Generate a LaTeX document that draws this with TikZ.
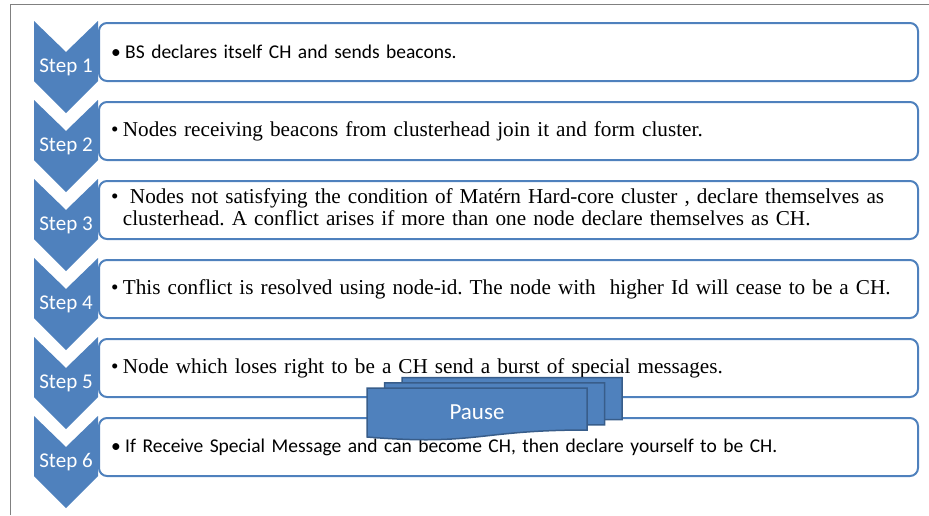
\documentclass[tikz,border=0pt]{standalone}
\usepackage{fontspec}
\setmainfont{Liberation Serif}
\newfontfamily\calibri{Carlito}
\frenchspacing

\definecolor{officeblue}{HTML}{4F81BD}
\definecolor{pauseedge}{HTML}{385D8A}

\tikzset{
    chevron/.style={fill=officeblue},
    steplabel/.style={text=white, font=\calibri\fontsize{21}{21}\selectfont},
    stepbox/.style={draw=officeblue, line width=2pt, rounded corners=8pt,
        minimum width=819pt, minimum height=58pt, text width=795pt,
        inner xsep=12pt, align=left},
    serifnote/.style={font=\fontsize{21.2}{22}\selectfont},
    sansnote/.style={font=\calibri\fontsize{19.5}{22}\selectfont},
    docshape/.style={fill=officeblue, draw=pauseedge, line width=1.5pt},
    pauselabel/.style={text=white, font=\calibri\fontsize{23}{23}\selectfont},
}

\begin{document}
\begin{tikzpicture}[x=1pt, y=-1pt]
    \useasboundingbox (0,0) rectangle (929,515);
    \draw[gray, line width=1.5pt] (10.5,515) -- (10.5,4.5) -- (929,4.5);

    % chevrons down the left side
    \foreach \i in {1,...,6} {
        \pgfmathsetmacro\yt{21+79*(\i-1)}
        \fill[chevron] (34,\yt) -- (66,\yt+31) -- (98,\yt) -- (98,\yt+60)
            -- (66,\yt+92) -- (34,\yt+60) -- cycle;
        \node[steplabel] (step\i) at (66,\yt+46) {Step \i};
    }

    \node[stepbox, sansnote] (box1) at (508.5,52)
        {\textbullet\hspace{4.5pt}BS declares itself CH and sends beacons.};
    \node[stepbox, serifnote] (box2) at (508.5,131)
        {\textbullet\hspace{4.5pt}Nodes receiving beacons from clusterhead join it and form cluster.};
    \node[stepbox, serifnote] (box3) at (508.5,210)
        {\begin{tabular}{@{}l@{\hspace{4.5pt}}l@{}}
            \textbullet & \ Nodes not satisfying the condition of Matérn Hard-core cluster , declare themselves as\\
            & clusterhead. A conflict arises if more than one node declare themselves as CH.
        \end{tabular}};
    \node[stepbox, serifnote] (box4) at (508.5,289)
        {\textbullet\hspace{4.5pt}This conflict is resolved using node-id. The node with \ higher Id will cease to be a CH.};
    \node[stepbox, serifnote] (box5) at (508.5,368)
        {\textbullet\hspace{4.5pt}Node which loses right to be a CH send a burst of special messages.};
    \node[stepbox, sansnote] (box6) at (508.5,447)
        {\textbullet\hspace{4.5pt}If Receive Special Message and can become CH, then declare yourself to be CH.};

    % stacked pause documents
    \foreach \dx/\dy in {35/-10.5, 17.5/-5.25, 0/0} {
        \begin{scope}[shift={(\dx,\dy)}]
            \draw[docshape] (367,388) -- (587,388) -- (587,430)
                .. controls (477,430) and (477,446) .. (367,437) -- cycle;
        \end{scope}
    }
    \node[pauselabel] (pause) at (477,412) {Pause};
\end{tikzpicture}
\end{document}
